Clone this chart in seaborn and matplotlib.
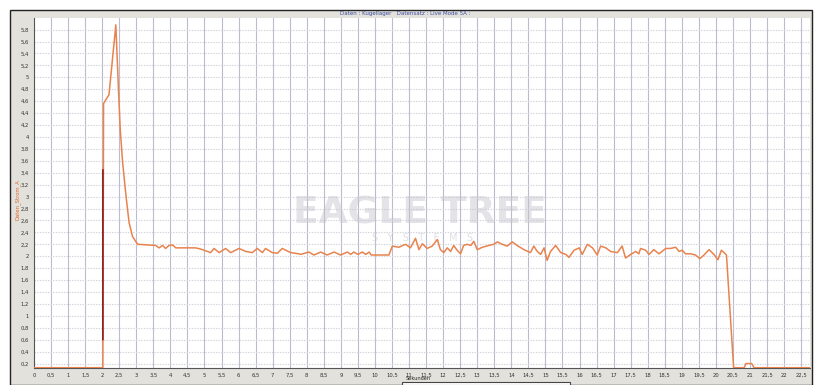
import matplotlib
matplotlib.use("Agg")
import matplotlib.pyplot as plt
from matplotlib.patches import Rectangle
import numpy as np
import pandas as pd
import seaborn as sns

# time in seconds, current in A
t_start = [0.0, 2.02, 2.04, 2.20, 2.40, 2.47, 2.53, 2.60, 2.70, 2.79, 2.89, 3.04, 3.57]
a_start = [0.13, 0.13, 4.56, 4.71, 5.88, 4.90, 4.12, 3.57, 3.00, 2.56, 2.33, 2.20, 2.18]

t_mid1 = [3.67, 3.77, 3.86, 3.96, 4.06, 4.16, 4.74, 4.89, 5.18, 5.28, 5.43, 5.62, 5.77,
          6.01, 6.21, 6.40, 6.55, 6.70, 6.79, 6.99, 7.14, 7.28, 7.53, 7.77]
a_mid1 = [2.14, 2.18, 2.13, 2.18, 2.19, 2.14, 2.14, 2.12, 2.06, 2.13, 2.06, 2.13, 2.06,
          2.13, 2.08, 2.06, 2.13, 2.06, 2.13, 2.06, 2.05, 2.13, 2.06, 2.04]

t_mid2 = [7.82, 8.06, 8.21, 8.41, 8.60, 8.80, 8.99, 9.19, 9.29, 9.38, 9.50, 9.63, 9.73,
          9.83, 9.89, 10.41, 10.51, 10.70, 10.90, 11.04, 11.19, 11.29, 11.39, 11.53,
          11.68, 11.83, 11.92, 12.02, 12.12, 12.22, 12.31, 12.41, 12.51, 12.60, 12.70]
a_mid2 = [2.03, 2.07, 2.02, 2.07, 2.02, 2.07, 2.02, 2.07, 2.03, 2.07, 2.03, 2.07, 2.03,
          2.07, 2.02, 2.02, 2.17, 2.15, 2.20, 2.14, 2.30, 2.11, 2.21, 2.13,
          2.17, 2.28, 2.11, 2.06, 2.14, 2.08, 2.18, 2.10, 2.04, 2.18, 2.20]

t_mid3 = [12.81, 12.90, 13.00, 13.15, 13.34, 13.49, 13.59, 13.73, 13.88, 14.03, 14.17,
          14.37, 14.56, 14.66, 14.76, 14.86, 14.96, 15.05, 15.15, 15.30, 15.45, 15.60,
          15.69, 15.84, 15.99, 16.08, 16.23, 16.38, 16.52, 16.62, 16.77, 16.91, 17.11,
          17.25, 17.35, 17.50, 17.65, 17.74]
a_mid3 = [2.18, 2.25, 2.11, 2.15, 2.18, 2.20, 2.24, 2.20, 2.17, 2.24, 2.18,
          2.11, 2.06, 2.17, 2.08, 2.03, 2.14, 1.93, 2.08, 2.18, 2.06, 2.03,
          1.98, 2.10, 2.14, 2.03, 2.20, 2.14, 2.02, 2.17, 2.14, 2.08, 2.06,
          2.17, 1.97, 2.03, 2.08, 2.04]

t_end = [17.79, 17.94, 18.04, 18.18, 18.33, 18.53, 18.67, 18.82, 18.92, 19.01, 19.11,
         19.26, 19.40, 19.53, 19.65, 19.80, 19.94, 20.06, 20.16, 20.24, 20.31, 20.52,
         20.83, 20.88, 21.05, 21.12, 22.75]
a_end = [2.13, 2.10, 2.03, 2.11, 2.04, 2.13, 2.13, 2.15, 2.08, 2.10, 2.04,
         2.04, 2.02, 1.96, 2.02, 2.11, 2.03, 1.94, 2.10, 2.06, 2.02, 0.13,
         0.13, 0.20, 0.20, 0.13, 0.13]

# dark cursor segment at the step
t_cursor = [2.02, 2.021]
a_cursor = [0.60, 3.45]

df = pd.DataFrame({
    "t": t_start + t_mid1 + t_mid2 + t_mid3 + t_end,
    "a": a_start + a_mid1 + a_mid2 + a_mid3 + a_end,
})

sns.set_style("white")
fig = plt.figure(figsize=(8.18, 3.85), dpi=100)
fig.patch.set_facecolor("white")

# grey panel of the logger window
fig.patches.append(Rectangle((10 / 818, 0), 802 / 818, 375 / 385, transform=fig.transFigure,
                             facecolor="#e3e1db", edgecolor="#222222", linewidth=1.0, zorder=-5))

ax = fig.add_axes([34 / 818, 17.3 / 385, 776 / 818, 349.4 / 385])
ax.set_zorder(1)
ax.set_facecolor("white")

sns.lineplot(data=df, x="t", y="a", ax=ax, estimator=None, sort=False,
             color="#e8834e", linewidth=1.1, zorder=3)
ax.plot(t_cursor, a_cursor, color="#8b1f1f", linewidth=1.2, zorder=4)

ax.set_xlim(0, 22.76)
ax.set_ylim(0.13, 5.99)

xt = np.arange(0, 23, 0.5)
yt = np.arange(0.2, 5.81, 0.2)
ax.set_xticks(xt)
ax.set_yticks(yt)
fmt = lambda v: (f"{v:g}").replace(".", ",")
ax.set_xticklabels([fmt(v) for v in xt], fontsize=3.8, color="#333333")
ax.set_yticklabels([fmt(round(v, 1)) for v in yt], fontsize=3.8, color="#333333")
ax.tick_params(axis="both", length=2, width=0.5, pad=1.5, colors="#555555", labelcolor="#333333")

for v in xt[1:]:
    ax.axvline(v, color="#bcbcd0", linewidth=0.8, zorder=1)
for v in yt:
    ax.axhline(v, color="#d2d2dc", linewidth=0.8, linestyle=(0, (1.2, 1.2)), zorder=1)

for s in ["top", "right"]:
    ax.spines[s].set_visible(False)
ax.spines["left"].set_color("#555555")
ax.spines["bottom"].set_color("#555555")
ax.spines["left"].set_linewidth(0.8)
ax.spines["bottom"].set_linewidth(0.8)

ax.set_xlabel("")
ax.set_ylabel("")

# watermark
ax.text(0.497, 0.44, "EAGLE TREE", transform=ax.transAxes, ha="center", va="center",
        fontsize=27, fontweight="bold", color="#c4c4cc", alpha=0.45, zorder=2)
ax.text(0.5, 0.372, "S   Y   S   T   E   M   S", transform=ax.transAxes, ha="center", va="center",
        fontsize=7, color="#cacad2", alpha=0.6, zorder=2)

fig.text(405 / 818, 1 - 13 / 385, "Daten : Kugellager   Datensatz : Live Mode 5A :",
         ha="center", va="center", fontsize=4, color="#3a4aa0")
fig.text(418 / 818, 1 - 379 / 385, "Sekunden", ha="center", va="center",
         fontsize=3.6, color="#222222", zorder=6)
fig.text(18 / 818, 1 - 200 / 385, "Daten_Strom_A", ha="center", va="center",
         rotation=90, fontsize=3.8, color="#e06a2a")

# status box at the bottom edge
fig.patches.append(Rectangle((402 / 818, 0), 168 / 818, 3.5 / 385, transform=fig.transFigure,
                             facecolor="white", edgecolor="#444444", linewidth=0.8, zorder=5))

fig.savefig("out.png", dpi=100, facecolor=fig.get_facecolor())
